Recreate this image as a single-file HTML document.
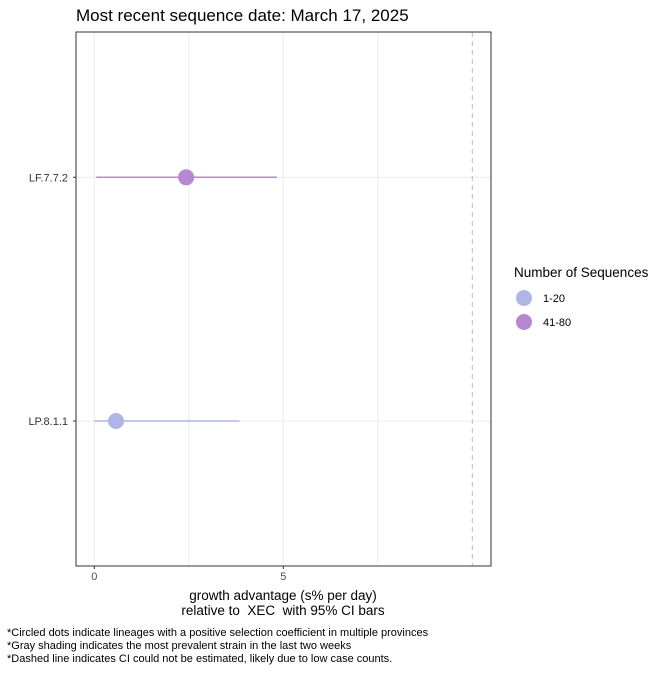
<!DOCTYPE html>
<html><head><meta charset="utf-8"><style>
body{margin:0;background:#fff;font-family:"Liberation Sans",sans-serif}
text{white-space:pre}
</style></head><body>
<svg id="chart" width="672" height="672" xmlns="http://www.w3.org/2000/svg" font-family="Liberation Sans, sans-serif">
<text x="76" y="21" font-size="17" fill="#000">Most recent sequence date: March 17, 2025</text>
<g id="plot"></g>
<text x="283" y="600" font-size="13.5" text-anchor="middle">growth advantage (s% per day)</text>
<text x="283" y="615" font-size="13.5" text-anchor="middle">relative to&#160; XEC&#160; with 95% CI bars</text>
<text x="514" y="277" font-size="13.5">Number of Sequences</text>
<g><circle cx="524" cy="298" r="8" fill="#aeb6e6"/><text x="543" y="302" font-size="11">1-20</text></g>
<g><circle cx="524" cy="322" r="8" fill="#b588d0"/><text x="543" y="326" font-size="11">41-80</text></g>
<g font-size="11" fill="#000">
<text x="7" y="636">*Circled dots indicate lineages with a positive selection coefficient in multiple provinces</text>
<text x="7" y="649">*Gray shading indicates the most prevalent strain in the last two weeks</text>
<text x="7" y="662">*Dashed line indicates CI could not be estimated, likely due to low case counts.</text>
</g>
</svg>
<script>
const lineages=["LF.7.7.2","LP.8.1.1"];
const estimates=[2.43,0.575];
const ciLow=[0.05,0.0];
const ciHigh=[4.83,3.84];
const colors=["#b588d0","#aeb6e6"];
const xTicks=[0,5];
const xGrid=[0,2.5,5,7.5];
const dashedAt=10;
const L=76,R=491,T=32,B=566;
const x=v=>94.3+v*37.8;
const yPos=[177.3,421];
const y=i=>yPos[i];
const NS="http://www.w3.org/2000/svg";
const g=document.getElementById('plot');
function mk(t,a){const e=document.createElementNS(NS,t);for(const k in a)e.setAttribute(k,a[k]);g.appendChild(e);return e;}
xGrid.forEach(v=>{const e=mk('line',{x1:x(v),x2:x(v),y1:T,y2:B,stroke:'#ebebeb','stroke-width':1});

});
lineages.forEach((n,i)=>{const e=mk('line',{x1:L,x2:R,y1:y(i),y2:y(i),stroke:'#ebebeb','stroke-width':1});

});
const d=mk('line',{x1:x(dashedAt),x2:x(dashedAt),y1:T,y2:B,stroke:'#bbb','stroke-width':1,'stroke-dasharray':'5,4'});


lineages.forEach((n,i)=>{
const l=mk('line',{x1:x(ciLow[i]),x2:x(ciHigh[i]),y1:y(i),y2:y(i),stroke:colors[i],'stroke-width':1.5});


const c=mk('circle',{cx:x(estimates[i]),cy:y(i),r:8,fill:colors[i]});


const t=mk('text',{x:L-8,y:y(i)+4,'font-size':11,fill:'#333','text-anchor':'end'});t.textContent=n;


const tk=mk('line',{x1:L-3,x2:L,y1:y(i),y2:y(i),stroke:'#333'});


});
const fr=mk('rect',{x:L,y:T,width:R-L,height:B-T,fill:'none',stroke:'#333','stroke-width':1});


xTicks.forEach(v=>{const tk=mk('line',{x1:x(v),x2:x(v),y1:B,y2:B+3,stroke:'#333'});


const t=mk('text',{x:x(v),y:B+14,'font-size':11,fill:'#4d4d4d','text-anchor':'middle'});t.textContent=v;

});
</script>
</body></html>
